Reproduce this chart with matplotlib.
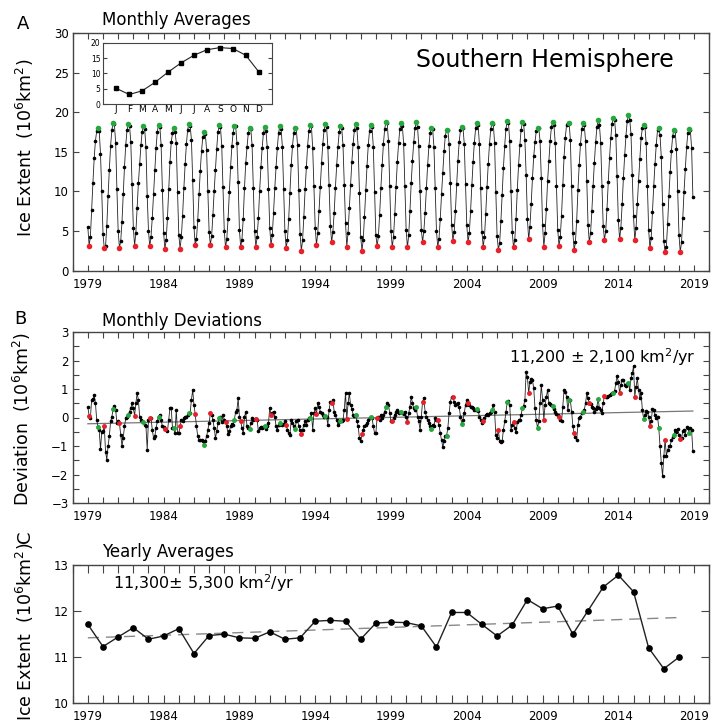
import numpy as np
import matplotlib.pyplot as plt
from matplotlib.ticker import FixedLocator, MultipleLocator

plt.rcParams['font.family'] = 'DejaVu Sans'

# Southern Hemisphere sea ice extent, 10^6 km^2
years = list(range(1979, 2019))
month_letters = ['J', 'F', 'M', 'A', 'M', 'J', 'J', 'A', 'S', 'O', 'N', 'D']
climatology = [5.1, 3.1, 4.3, 7.1, 10.4, 13.4, 15.9, 17.7, 18.4, 18.1, 15.9, 10.5]

# monthly deviations from the climatology, one row per year (Jan..Dec)
monthly_deviation = [
    [0.36, 0.06, -0.02, 0.62, 0.65, 0.79, 0.50, -0.08, -0.34, -0.45, -1.12, -0.50],  # 1979
    [-0.48, -0.29, -1.20, -1.48, -1.00, -0.66, -0.14, 0.03, 0.29, 0.41, 0.27, -0.20],
    [-0.14, -0.20, -0.60, -1.00, -0.72, -0.31, -0.02, 0.03, 0.09, 0.21, 0.33, 0.50],
    [0.33, 0.06, 0.50, 0.85, 0.62, 0.03, -0.08, -0.14, -0.17, -0.26, -0.31, -1.13],
    [-0.08, -0.02, -0.02, -0.43, -0.72, -0.66, -0.37, -0.14, 0.03, 0.09, -0.08, -0.31],
    [-0.34, -0.40, -0.43, -0.49, -0.08, 0.33, 0.33, -0.37, -0.37, -0.55, 0.27, -0.55],  # 1984
    [-0.55, -0.31, -0.08, -0.14, -0.02, 0.01, 0.03, 0.09, 0.15, 0.17, 0.62, 0.97],
    [0.44, 0.12, -0.31, -0.66, -0.78, -0.78, -0.78, -0.84, -0.95, -0.84, -0.66, -0.43],
    [-0.20, 0.15, 0.09, -0.08, -0.37, -0.72, -0.49, -0.20, -0.02, 0.03, -0.17, 0.09],
    [-0.08, -0.16, -0.31, -0.58, -0.49, -0.31, -0.22, -0.27, -0.08, 0.21, 0.27, 0.67],
    [0.03, -0.12, -0.37, -0.55, 0.03, 0.19, -0.31, -0.37, -0.41, -0.20, -0.02, -0.10],  # 1989
    [-0.05, -0.05, -0.08, -0.49, -0.37, -0.34, -0.38, -0.34, -0.29, -0.41, -0.29, -0.20],
    [0.33, 0.09, 0.17, 0.21, 0.03, -0.31, -0.43, -0.26, -0.20, -0.22, -0.26, -0.22],
    [-0.14, -0.26, -0.43, -0.55, -0.60, -0.08, -0.20, -0.29, -0.40, -0.14, -0.08, -0.31],
    [-0.43, -0.58, -0.43, -0.26, -0.14, -0.26, -0.10, -0.02, -0.02, 0.15, -0.43, 0.15],
    [0.33, 0.13, 0.50, 0.38, 0.21, 0.15, 0.09, 0.03, 0.07, 0.03, -0.26, 0.27],  # 1994
    [0.56, 0.50, 0.62, 0.21, 0.09, -0.08, -0.26, -0.17, -0.14, -0.14, -0.08, 0.27],
    [0.87, -0.06, 0.50, 0.85, 0.45, 0.30, 0.10, 0.05, 0.09, -0.14, -0.30, -0.72],
    [-0.84, -0.58, -0.43, -0.31, -0.26, -0.20, -0.08, -0.02, 0.03, -0.02, -0.31, -0.55],
    [-0.55, -0.02, 0.03, -0.08, 0.09, -0.02, 0.09, 0.21, 0.36, 0.50, 0.44, 0.15],
    [-0.14, -0.14, -0.02, 0.09, 0.21, 0.27, 0.17, 0.20, 0.21, 0.15, 0.13, 0.21],  # 1999
    [0.03, -0.17, 0.15, 0.38, 0.73, 0.50, 0.33, 0.27, 0.36, 0.03, -0.14, -0.43],
    [0.03, 0.56, 0.67, 0.21, 0.03, -0.08, -0.20, -0.31, -0.40, -0.26, -0.31, -0.02],
    [-0.08, -0.10, -0.26, -0.55, -0.78, -1.03, -0.84, -0.66, -0.64, -0.37, 0.15, 0.55],
    [0.73, 0.71, 0.56, 0.44, 0.48, 0.50, 0.38, 0.03, -0.22, -0.08, 0.15, 0.44],
    [0.62, 0.52, 0.44, 0.38, 0.36, 0.33, 0.27, 0.27, 0.29, 0.24, 0.03, -0.08],  # 2004
    [-0.20, -0.12, -0.02, 0.09, 0.13, 0.09, 0.15, 0.21, 0.27, 0.44, 0.21, -0.60],
    [-0.72, -0.43, -0.84, -0.87, -0.84, -0.43, -0.14, 0.21, 0.53, 0.59, 0.44, -0.43],
    [-0.26, -0.17, -0.37, -0.52, -0.17, -0.08, -0.08, 0.09, 0.33, 0.41, 0.62, 1.60],
    [1.41, 0.85, 1.26, 1.34, 1.31, 1.02, 0.33, -0.08, -0.37, -0.14, 0.50, 1.14],
    [0.62, -0.08, 0.44, 0.73, 0.97, 0.50, 0.48, 0.43, 0.41, 0.29, 0.21, 0.13],  # 2009
    [0.08, 0.03, -0.08, -0.14, 0.38, 0.97, 0.91, 0.73, 0.27, 0.60, 0.60, 0.21],
    [-0.31, -0.55, -0.69, -0.78, -0.26, -0.02, 0.03, 0.15, 0.21, 0.27, 0.50, 0.85],
    [0.67, 0.50, 0.47, 0.38, 0.33, 0.21, 0.29, 0.38, 0.65, 0.33, 0.27, 0.17],
    [0.50, 0.77, 0.73, 0.73, 0.76, 0.79, 0.81, 0.85, 0.87, 0.94, 1.20, 1.45],
    [1.26, 0.85, 1.14, 1.31, 1.31, 1.14, 1.10, 1.17, 1.20, 0.97, 1.37, 1.55],  # 2014
    [1.80, 0.73, 1.08, 1.37, 0.97, 0.67, 0.85, 0.27, -0.05, 0.09, 0.24, 0.21],
    [0.03, -0.29, -0.14, 0.29, 0.27, 0.09, -0.02, 0.03, -0.37, -1.01, -1.59, -2.06],
    [-1.36, -0.78, -1.34, -1.15, -1.01, -0.99, -0.80, -0.69, -0.60, -0.43, -0.52, -0.41],
    [-0.60, -0.76, -0.72, -0.49, -0.43, -0.60, -0.34, -0.37, -0.55, -0.37, -0.45, -1.19],  # 2018
]

yearly_extent = [11.71, 11.23, 11.44, 11.64, 11.39, 11.46, 11.62, 11.08, 11.47, 11.50,
                 11.42, 11.41, 11.55, 11.39, 11.42, 11.78, 11.80, 11.78, 11.39, 11.74,
                 11.76, 11.75, 11.68, 11.22, 11.97, 11.97, 11.71, 11.46, 11.70, 12.25,
                 12.05, 12.11, 11.50, 12.01, 12.52, 12.78, 12.42, 11.20, 10.75, 11.00]

# trends (km^2/yr) and line values at the start of the record
trend_monthly = 11200
trend_monthly_start = -0.22
trend_yearly = 11300
trend_yearly_start = 11.42

RED = '#e8202a'
GREEN = '#25a83e'
FRAME = '#444444'

dev = np.array(monthly_deviation)
extent = dev + np.array(climatology)[None, :]
t = (np.array(years)[:, None] + np.arange(12)[None, :] / 12.0)
imin = extent.argmin(axis=1)
imax = extent.argmax(axis=1)
rows = np.arange(len(years))

W, H = 721, 722
fig = plt.figure(figsize=(W / 100, H / 100), dpi=100)


def box(left, top, right, bottom):
    return [left / W, 1 - bottom / H, (right - left) / W, (bottom - top) / H]


def style_axes(ax, ylim, ymajor, yminor=None, tick_len=4):
    ax.set_xlim(1978, 2020)
    ax.set_ylim(*ylim)
    ax.xaxis.set_major_locator(FixedLocator(range(1979, 2020, 5)))
    ax.xaxis.set_minor_locator(MultipleLocator(1))
    ax.yaxis.set_major_locator(MultipleLocator(ymajor))
    if yminor:
        ax.yaxis.set_minor_locator(MultipleLocator(yminor))
    ax.tick_params(which='both', direction='in', top=True, right=True,
                   color=FRAME, width=0.8, labelsize=8.5)
    ax.tick_params(which='major', length=tick_len)
    ax.tick_params(which='minor', length=tick_len)
    ax.tick_params(axis='x', pad=5)
    ax.tick_params(axis='y', pad=3)
    for s in ax.spines.values():
        s.set_color(FRAME)
        s.set_linewidth(1.0)


ylabel_kw = dict(rotation=90, ha='center', va='center', fontsize=12.5)

# A: monthly averages
ax_a = fig.add_axes(box(72.7, 33, 709.3, 270.7))
style_axes(ax_a, (0, 30), 5)
ax_a.plot(t.ravel(), extent.ravel(), color='#222222', lw=0.6,
          marker='o', ms=1.6, mfc='black', mec='black')
ax_a.plot(t[rows, imin], extent[rows, imin], 'o', color=RED, ms=4, mec='none')
ax_a.plot(t[rows, imax], extent[rows, imax], 'o', color=GREEN, ms=4, mec='none')
ax_a.text(0.54, 0.885, 'Southern Hemisphere', transform=ax_a.transAxes,
          fontsize=17, ha='left', va='center')

ax_in = fig.add_axes(box(103.3, 42.7, 271.7, 104))
ax_in.plot(range(1, 13), climatology, color='#222222', lw=0.8,
           marker='s', ms=2.2, mfc='black', mec='black')
ax_in.set_xlim(0, 13)
ax_in.set_ylim(0, 20)
ax_in.set_xticks(range(1, 13))
ax_in.set_xticklabels(month_letters)
ax_in.set_yticks([0, 5, 10, 15, 20])
ax_in.tick_params(axis='x', length=0, pad=0.5, labelsize=6.5)
ax_in.tick_params(axis='y', direction='in', right=True, length=3,
                  pad=2, labelsize=5.5, color=FRAME)
for s in ax_in.spines.values():
    s.set_color(FRAME)
    s.set_linewidth(0.8)

# B: monthly deviations
ax_b = fig.add_axes(box(72.7, 332, 709.3, 503))
style_axes(ax_b, (-3, 3), 1, 0.5)
trend_t = np.array([t[0, 0], t[-1, -1]])
ax_b.plot(trend_t, trend_monthly_start + trend_monthly / 1e6 * (trend_t - trend_t[0]),
          color='#777777', lw=0.9)
ax_b.plot(t.ravel(), dev.ravel(), color='#222222', lw=0.6,
          marker='o', ms=1.6, mfc='black', mec='black')
ax_b.plot(t[rows, imin], dev[rows, imin], 'o', color=RED, ms=3.5, mec='none')
ax_b.plot(t[rows, imax], dev[rows, imax], 'o', color=GREEN, ms=3.5, mec='none')
ax_b.text(0.685, 0.855, '11,200 $\\pm$ 2,100 km$^2$/yr',
          transform=ax_b.transAxes, fontsize=11.5, ha='left', va='center')

# C: yearly averages
ax_c = fig.add_axes(box(72.7, 565, 709.3, 703.3))
style_axes(ax_c, (10, 13), 1, tick_len=6)
yr = np.array(years, dtype=float)
ax_c.plot(yr[[0, -1]], trend_yearly_start + trend_yearly / 1e6 * (yr[[0, -1]] - yr[0]),
          color='#888888', lw=1.0, dashes=(8, 5))
ax_c.plot(yr, yearly_extent, color='#222222', lw=1.0,
          marker='o', ms=3.8, mfc='black', mec='black')
ax_c.text(0.064, 0.87, '11,300$\\pm$ 5,300 km$^2$/yr', transform=ax_c.transAxes,
          fontsize=11.5, ha='left', va='center')

# panel letters, titles and axis labels
fig.text(23 / W, 1 - 24 / H, 'A', fontsize=13, ha='center', va='center')
fig.text(20.5 / W, 1 - 319 / H, 'B', fontsize=13, ha='center', va='center')
fig.text(25 / W, 1 - 537 / H, 'C', fontsize=13, ha='center', va='center', rotation=90)
fig.text(102 / W, 1 - 20 / H, 'Monthly Averages', fontsize=12, ha='left', va='center')
fig.text(102 / W, 1 - 321 / H, 'Monthly Deviations', fontsize=12, ha='left', va='center')
fig.text(102 / W, 1 - 552 / H, 'Yearly Averages', fontsize=12, ha='left', va='center')
fig.text(25 / W, 1 - 148 / H, 'Ice Extent  (10$^6$km$^2$)', **ylabel_kw)
fig.text(22 / W, 1 - 419 / H, 'Deviation  (10$^6$km$^2$)', **ylabel_kw)
fig.text(25 / W, 1 - 632 / H, 'Ice Extent  (10$^6$km$^2$)', **ylabel_kw)

fig.savefig('out.png', dpi=100)
